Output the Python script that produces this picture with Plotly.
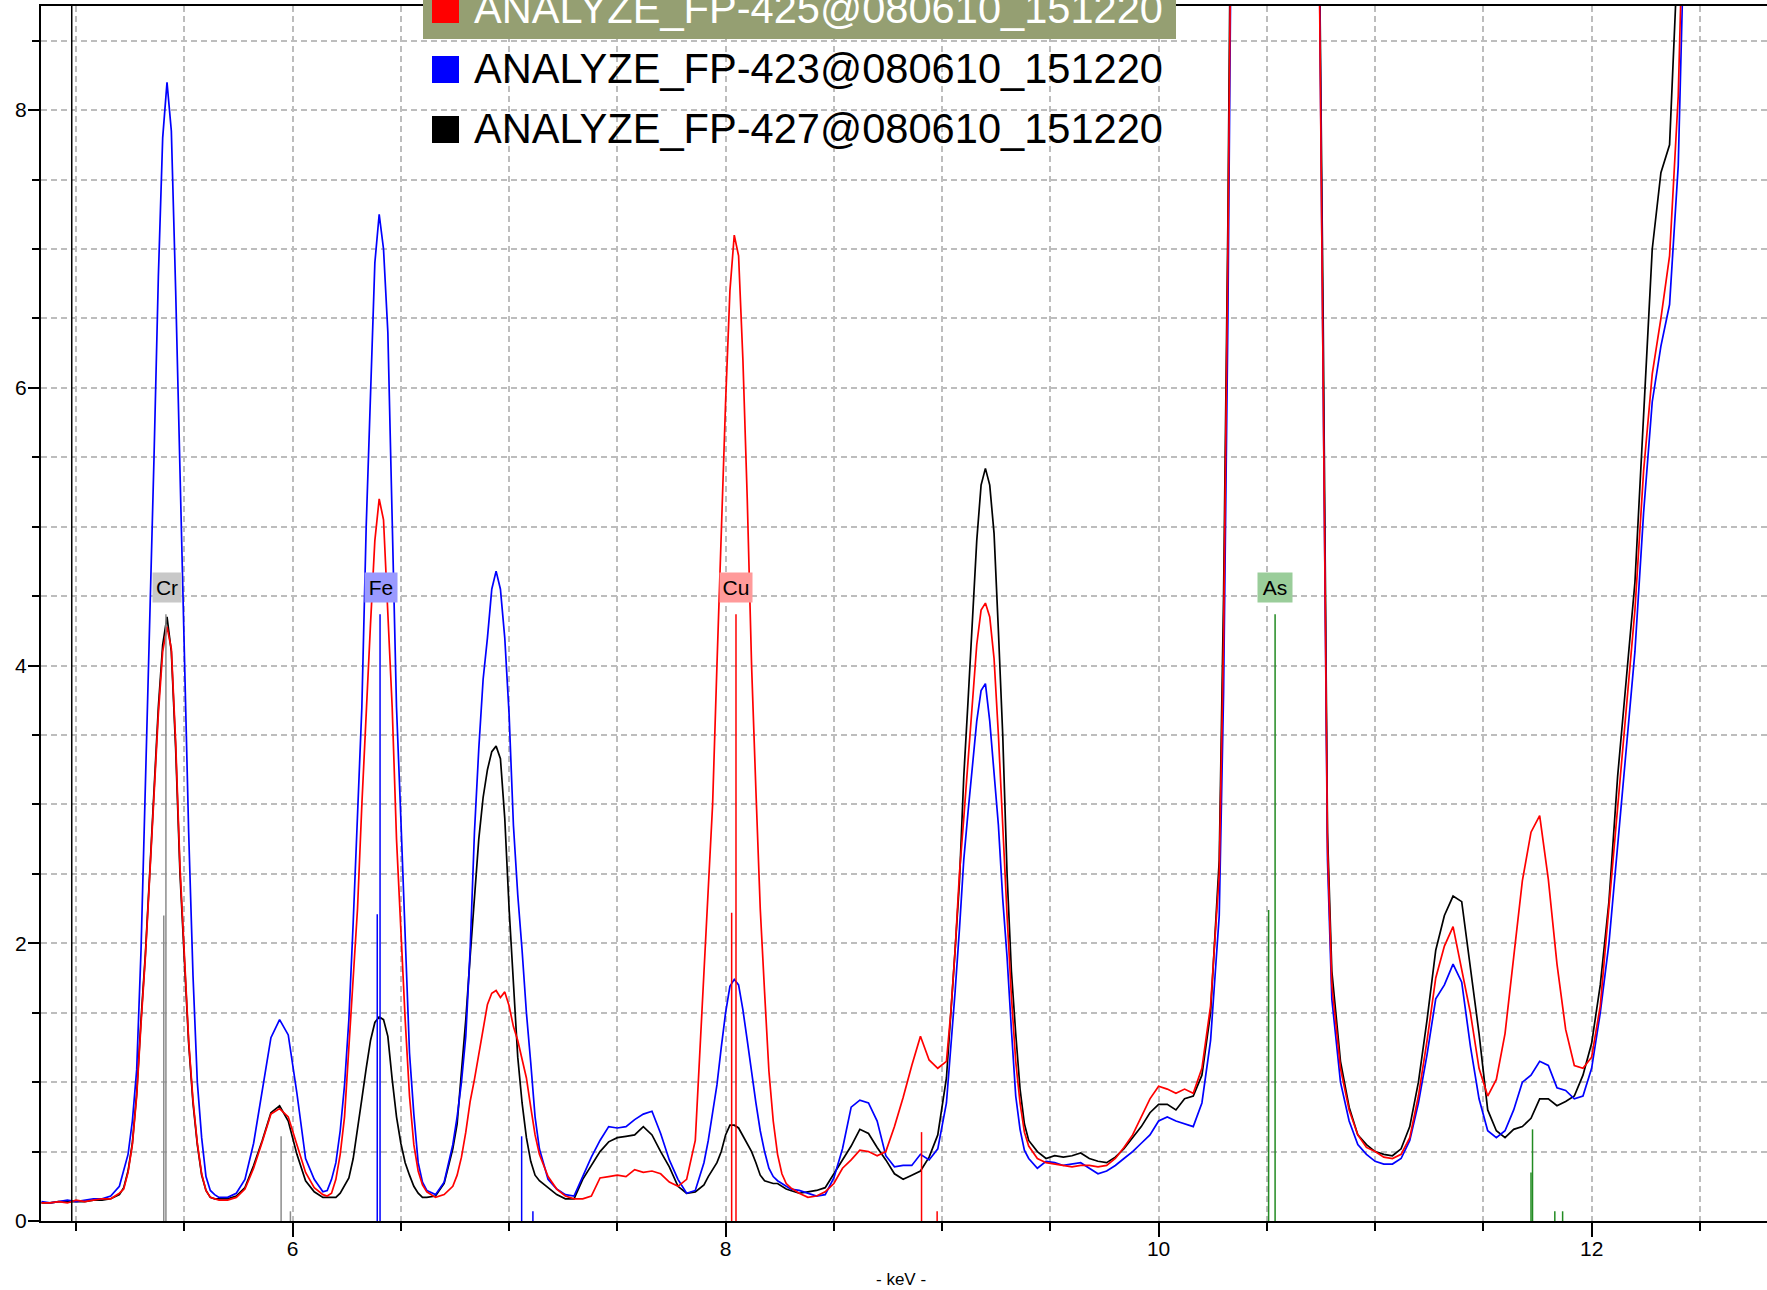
import plotly.graph_objects as go

# ---------------- data ----------------
KEV = [
    4.84, 4.88, 4.92, 4.96, 5.00, 5.04, 5.08, 5.12, 5.16, 5.20,
    5.22, 5.24, 5.26, 5.28, 5.30, 5.32, 5.34, 5.36, 5.38, 5.40, 5.42, 5.44, 5.46, 5.48, 5.50, 5.52, 5.54, 5.56, 5.58, 5.60, 5.62, 5.64, 5.66,
    5.70, 5.74, 5.78, 5.82, 5.86, 5.90, 5.94, 5.98, 6.02, 6.06, 6.10, 6.14,
    6.16, 6.18, 6.20, 6.22, 6.24, 6.26, 6.28, 6.30, 6.32, 6.34, 6.36, 6.38, 6.40, 6.42, 6.44, 6.46, 6.48, 6.50, 6.52, 6.54, 6.56, 6.58, 6.60, 6.62,
    6.66, 6.70, 6.74, 6.76, 6.78, 6.80, 6.82, 6.84, 6.86, 6.88, 6.90, 6.92, 6.94, 6.96, 6.98, 7.00, 7.02, 7.04, 7.06, 7.08, 7.10, 7.12, 7.14, 7.18, 7.22, 7.26, 7.30,
    7.34, 7.38, 7.42, 7.46, 7.50, 7.54, 7.58, 7.62, 7.66, 7.70, 7.74, 7.78, 7.82, 7.86, 7.90,
    7.92, 7.94, 7.96, 7.98, 8.00, 8.02, 8.04, 8.06, 8.08, 8.10, 8.12, 8.14, 8.16, 8.18, 8.20, 8.22, 8.24, 8.26, 8.28, 8.30,
    8.34, 8.38, 8.42, 8.46, 8.50, 8.54, 8.58, 8.62, 8.66, 8.70, 8.74, 8.78, 8.82, 8.86, 8.90, 8.94, 8.98, 9.02,
    9.04, 9.06, 9.08, 9.10, 9.12, 9.14, 9.16, 9.18, 9.20, 9.22, 9.24, 9.26, 9.28, 9.30, 9.32, 9.34, 9.36, 9.38, 9.40,
    9.44, 9.48, 9.52, 9.56, 9.60, 9.64, 9.68, 9.72, 9.76, 9.80, 9.84, 9.88, 9.92, 9.96, 10.00, 10.04, 10.08, 10.12, 10.16, 10.20, 10.24, 10.28,
    10.30, 10.32, 10.34, 10.36, 10.40, 10.45, 10.50, 10.55, 10.60, 10.65, 10.70, 10.72, 10.74, 10.76, 10.78,
    10.80, 10.84, 10.88, 10.92, 10.96, 11.00, 11.04, 11.08, 11.12, 11.16, 11.20, 11.24, 11.28,
    11.32, 11.36, 11.40, 11.44, 11.48, 11.52, 11.56, 11.60, 11.64, 11.68, 11.72, 11.76, 11.80, 11.84, 11.88, 11.92, 11.96, 12.00, 12.04, 12.08, 12.12, 12.16,
    12.20, 12.24, 12.28, 12.32, 12.36, 12.40, 12.44, 12.50, 12.60, 12.70, 12.82,
]

FP425_RED = [
    0.13, 0.13, 0.14, 0.13, 0.15, 0.14, 0.15, 0.16, 0.16, 0.20,
    0.23, 0.35, 0.55, 0.90, 1.42, 1.90, 2.48, 3.05, 3.65, 4.10, 4.28, 4.12, 3.45, 2.55, 1.90, 1.30, 0.87, 0.56, 0.34, 0.22, 0.17, 0.16, 0.15,
    0.15, 0.17, 0.23, 0.38, 0.57, 0.77, 0.81, 0.75, 0.55, 0.35, 0.24, 0.19,
    0.18, 0.20, 0.30, 0.48, 0.75, 1.25, 1.70, 2.25, 3.00, 3.70, 4.30, 4.90, 5.20, 5.05, 4.40, 3.70, 2.75, 2.05, 1.45, 0.90, 0.55, 0.36, 0.26, 0.21,
    0.17, 0.19, 0.25, 0.33, 0.46, 0.64, 0.86, 1.02, 1.20, 1.40, 1.56, 1.64, 1.66, 1.61, 1.65, 1.55, 1.40, 1.30, 1.16, 1.03, 0.82, 0.62, 0.48, 0.32, 0.23, 0.18, 0.16,
    0.16, 0.18, 0.31, 0.32, 0.33, 0.32, 0.37, 0.35, 0.36, 0.34, 0.28, 0.25, 0.30, 0.58, 1.75,
    2.40, 3.00, 4.00, 5.00, 5.90, 6.70, 7.10, 6.95, 6.20, 5.20, 4.00, 3.10, 2.25, 1.65, 1.08, 0.72, 0.48, 0.34, 0.27, 0.24,
    0.20, 0.17, 0.18, 0.21, 0.27, 0.38, 0.44, 0.51, 0.50, 0.47, 0.50, 0.68, 0.89, 1.12, 1.33, 1.16, 1.10, 1.15,
    1.50, 1.95, 2.50, 2.90, 3.30, 3.75, 4.15, 4.40, 4.45, 4.35, 4.05, 3.50, 2.80, 2.20, 1.62, 1.15, 0.85, 0.64, 0.54,
    0.45, 0.42, 0.41, 0.40, 0.39, 0.40, 0.40, 0.39, 0.40, 0.45, 0.53, 0.62, 0.75, 0.88, 0.97, 0.95, 0.92, 0.95, 0.92, 1.10, 1.55, 2.50,
    4.2, 7.0, 10.4, 14.0, 25.0, 38.0, 48.0, 50.0, 45.0, 32.0, 18.0, 13.0, 9.4, 6.3, 2.7,
    1.70, 1.10, 0.80, 0.62, 0.53, 0.50, 0.46, 0.45, 0.48, 0.60, 0.90, 1.30, 1.75,
    1.98, 2.12, 1.80, 1.50, 1.10, 0.90, 1.02, 1.35, 1.90, 2.45, 2.80, 2.92, 2.46, 1.85, 1.38, 1.12, 1.10, 1.18, 1.55, 2.25, 2.95, 3.70,
    4.4, 5.4, 6.1, 6.5, 6.95, 8.1, 10.5, 14.0, 20.0, 18.0, 12.0,
]

FP423_BLUE = [
    0.14, 0.13, 0.14, 0.15, 0.14, 0.15, 0.16, 0.16, 0.18, 0.25,
    0.36, 0.48, 0.72, 1.09, 1.95, 3.10, 4.40, 5.50, 6.80, 7.80, 8.20, 7.85, 6.70, 5.40, 4.00, 2.80, 1.77, 1.00, 0.60, 0.32, 0.22, 0.19, 0.17,
    0.17, 0.20, 0.30, 0.56, 0.95, 1.32, 1.45, 1.34, 0.92, 0.45, 0.30, 0.21,
    0.22, 0.30, 0.42, 0.65, 0.98, 1.45, 2.15, 2.95, 3.70, 5.00, 6.00, 6.90, 7.25, 7.00, 6.40, 5.10, 3.70, 2.90, 2.00, 1.21, 0.77, 0.42, 0.28, 0.22,
    0.19, 0.28, 0.55, 0.75, 1.00, 1.33, 1.95, 2.80, 3.40, 3.90, 4.20, 4.55, 4.68, 4.55, 4.20, 3.65, 2.85, 2.35, 1.95, 1.50, 1.14, 0.75, 0.52, 0.30, 0.23, 0.19, 0.18,
    0.32, 0.46, 0.58, 0.68, 0.67, 0.68, 0.73, 0.77, 0.79, 0.63, 0.44, 0.30, 0.20, 0.22, 0.42,
    0.58, 0.78, 0.98, 1.25, 1.50, 1.69, 1.74, 1.70, 1.52, 1.30, 1.06, 0.85, 0.65, 0.50, 0.38, 0.32, 0.29, 0.27, 0.25, 0.23,
    0.22, 0.20, 0.18, 0.19, 0.31, 0.52, 0.82, 0.87, 0.85, 0.72, 0.47, 0.39, 0.40, 0.40, 0.48, 0.44, 0.52, 0.85,
    1.23, 1.65, 2.10, 2.60, 2.95, 3.30, 3.60, 3.82, 3.87, 3.60, 3.20, 2.85, 2.32, 1.90, 1.38, 0.90, 0.66, 0.51, 0.45,
    0.38, 0.43, 0.42, 0.40, 0.41, 0.42, 0.38, 0.34, 0.36, 0.40, 0.45, 0.50, 0.56, 0.62, 0.72, 0.75, 0.72, 0.70, 0.68, 0.85, 1.30, 2.20,
    3.8, 6.5, 10.0, 14.0, 25.0, 38.0, 48.0, 50.0, 45.0, 32.0, 18.0, 13.0, 9.5, 6.0, 2.6,
    1.60, 1.00, 0.72, 0.55, 0.48, 0.43, 0.41, 0.41, 0.45, 0.58, 0.85, 1.20, 1.60,
    1.70, 1.85, 1.72, 1.26, 0.88, 0.65, 0.60, 0.65, 0.80, 1.00, 1.05, 1.15, 1.12, 0.96, 0.94, 0.88, 0.90, 1.10, 1.50, 2.00, 2.70, 3.35,
    4.1, 5.1, 5.9, 6.3, 6.6, 7.6, 10.0, 14.0, 20.0, 18.0, 12.0,
]

FP427_BLACK = [
    0.13, 0.13, 0.14, 0.14, 0.14, 0.14, 0.15, 0.15, 0.16, 0.19,
    0.24, 0.36, 0.56, 0.92, 1.45, 1.92, 2.50, 3.10, 3.70, 4.15, 4.35, 4.10, 3.40, 2.50, 1.88, 1.28, 0.85, 0.55, 0.33, 0.22, 0.17, 0.16, 0.16,
    0.16, 0.18, 0.24, 0.40, 0.58, 0.78, 0.83, 0.72, 0.48, 0.29, 0.21, 0.17,
    0.17, 0.17, 0.17, 0.20, 0.25, 0.31, 0.45, 0.65, 0.88, 1.10, 1.30, 1.43, 1.47, 1.45, 1.33, 1.02, 0.75, 0.56, 0.42, 0.33, 0.25, 0.20, 0.17, 0.17,
    0.18, 0.27, 0.52, 0.70, 1.05, 1.45, 1.90, 2.35, 2.75, 3.05, 3.25, 3.38, 3.42, 3.33, 2.90, 2.25, 1.70, 1.18, 0.85, 0.60, 0.43, 0.33, 0.29, 0.24, 0.19, 0.16, 0.16,
    0.30, 0.40, 0.50, 0.57, 0.60, 0.61, 0.62, 0.68, 0.62, 0.50, 0.39, 0.25, 0.20, 0.21, 0.26,
    0.32, 0.37, 0.42, 0.50, 0.62, 0.69, 0.69, 0.67, 0.61, 0.55, 0.50, 0.42, 0.33, 0.29, 0.28, 0.27, 0.27, 0.25, 0.23, 0.22,
    0.20, 0.21, 0.22, 0.24, 0.34, 0.45, 0.54, 0.66, 0.63, 0.53, 0.44, 0.34, 0.30, 0.33, 0.36, 0.46, 0.62, 1.03,
    1.47, 1.95, 2.44, 3.20, 3.75, 4.30, 4.90, 5.30, 5.42, 5.30, 4.95, 4.25, 3.50, 2.50, 1.80, 1.35, 0.95, 0.70, 0.58,
    0.50, 0.45, 0.47, 0.46, 0.47, 0.49, 0.45, 0.43, 0.42, 0.46, 0.52, 0.60, 0.68, 0.78, 0.84, 0.84, 0.80, 0.88, 0.90, 1.05, 1.50, 2.60,
    4.5, 7.2, 10.5, 14.0, 25.0, 38.0, 48.0, 50.0, 45.0, 32.0, 18.0, 13.0, 9.6, 6.5, 2.8,
    1.80, 1.15, 0.82, 0.62, 0.55, 0.50, 0.48, 0.47, 0.52, 0.68, 1.00, 1.45, 1.95,
    2.20, 2.34, 2.30, 1.84, 1.35, 0.80, 0.65, 0.60, 0.66, 0.68, 0.74, 0.88, 0.88, 0.83, 0.86, 0.90, 1.05, 1.28, 1.70, 2.30, 3.20, 3.90,
    4.6, 5.8, 7.0, 7.55, 7.75, 9.2, 11.0, 14.0, 20.0, 18.0, 12.0,
]

SERIES_NAMES = ["ANALYZE_FP-425@080610_151220",
                "ANALYZE_FP-423@080610_151220",
                "ANALYZE_FP-427@080610_151220"]

# element marker lines (keV, relative height)
ELEMENTS = ["Cr", "Fe", "Cu", "As"]
ELEMENT_LINE_KEV = {
    "Cr": [5.405, 5.415, 5.947, 5.990],
    "Fe": [6.391, 6.404, 7.058, 7.110],
    "Cu": [8.028, 8.048, 8.905, 8.977],
    "As": [10.508, 10.538, 11.720, 11.727, 11.830, 11.866],
}
ELEMENT_LINE_H = {
    "Cr": [2.20, 4.37, 0.61, 0.07],
    "Fe": [2.21, 4.37, 0.61, 0.07],
    "Cu": [2.22, 4.37, 0.64, 0.07],
    "As": [2.24, 4.37, 0.35, 0.66, 0.07, 0.07],
}
ELEMENT_LABEL_KEV = {"Cr": 5.420, "Fe": 6.407, "Cu": 8.047, "As": 10.536}
CURSOR_KEV = 4.98
LABEL_LEVEL = 4.565

# ---------------- styling ----------------
W, H = 1767, 1290
ML, MR, MT, MB = 41, 0, 6, 69
PW, PH = W - ML - MR, H - MT - MB
XR = [4.838, 12.81]
YR = [0, 8.75]

LINE_COLORS = {"red": "#FF0000", "blue": "#0000FF", "black": "#000000"}
ELEM_LINE_COLOR = {"Cr": "#8C8C8C", "Fe": "#0000FF", "Cu": "#FF0000", "As": "#228B22"}
ELEM_BOX_COLOR = {"Cr": "#C8C8C8", "Fe": "#9A9AFF", "Cu": "#FF9A9A", "As": "#9ACD9A"}
ELEM_BOX_W = {"Cr": 26, "Fe": 30, "Cu": 30, "As": 32}
GRID = "#BDBDBD"
NARROW = "Liberation Sans Narrow, Liberation Sans, Arial, sans-serif"
SANS = "Liberation Sans, Arial, sans-serif"


def paper_x(px):
    return (px - ML) / PW


def paper_y(py):
    return (H - MB - py) / PH


fig = go.Figure()

for vals, col in [(FP427_BLACK, "black"), (FP423_BLUE, "blue"), (FP425_RED, "red")]:
    fig.add_trace(go.Scatter(x=KEV, y=vals, mode="lines",
                             line=dict(color=LINE_COLORS[col], width=1.7),
                             hoverinfo="skip", showlegend=False))

for el in ELEMENTS:
    xs, ys = [], []
    for k, h in zip(ELEMENT_LINE_KEV[el], ELEMENT_LINE_H[el]):
        xs += [k, k, None]
        ys += [0, h, None]
    fig.add_trace(go.Scatter(x=xs, y=ys, mode="lines",
                             line=dict(color=ELEM_LINE_COLOR[el], width=1.5),
                             hoverinfo="skip", showlegend=False))
    fig.add_annotation(x=ELEMENT_LABEL_KEV[el], y=LABEL_LEVEL, xref="x", yref="y",
                       text=el, showarrow=False, bgcolor=ELEM_BOX_COLOR[el],
                       width=ELEM_BOX_W[el], height=27, borderpad=1,
                       font=dict(family=NARROW, size=21, color="#000000"))

# cursor line
fig.add_trace(go.Scatter(x=[CURSOR_KEV, CURSOR_KEV], y=[0, YR[1]], mode="lines",
                         line=dict(color="#000000", width=1.5),
                         hoverinfo="skip", showlegend=False))

# legend (drawn manually)
fig.add_shape(type="rect", xref="paper", yref="paper",
              x0=paper_x(423), x1=paper_x(1176), y0=paper_y(39), y1=paper_y(-2),
              fillcolor="#959F72", line=dict(width=0), layer="above")
legend_colors = ["#FF0000", "#0000FF", "#000000"]
legend_text_colors = ["#FFFFFF", "#000000", "#000000"]
for i, name in enumerate(SERIES_NAMES):
    top = -4 + 60 * i
    fig.add_shape(type="rect", xref="paper", yref="paper",
                  x0=paper_x(432), x1=paper_x(459), y0=paper_y(top + 27), y1=paper_y(top),
                  fillcolor=legend_colors[i], line=dict(width=0), layer="above")
    fig.add_annotation(x=paper_x(472), y=paper_y(top + 12), xref="paper", yref="paper",
                       xanchor="left", yanchor="middle", text=name, showarrow=False,
                       font=dict(family=SANS, size=41.6, color=legend_text_colors[i]))

# axis title
fig.add_annotation(x=paper_x(901), y=paper_y(1279), xref="paper", yref="paper",
                   text="- keV -", showarrow=False, xanchor="center", yanchor="middle",
                   font=dict(family=SANS, size=17, color="#000000"))

fig.update_xaxes(range=XR, tick0=0, dtick=2, ticks="outside", ticklen=14, tickwidth=1.5,
                 tickcolor="#000000", showline=True, linecolor="#000000", linewidth=2,
                 mirror=True, zeroline=False, ticklabelstandoff=-6,
                 showgrid=True, gridcolor=GRID, gridwidth=1.5, griddash="6px,4px",
                 tickfont=dict(family=NARROW, size=21, color="#000000"),
                 minor=dict(dtick=0.5, tick0=0, ticks="outside", ticklen=8, tickwidth=1.5,
                            tickcolor="#000000", showgrid=True, gridcolor=GRID,
                            gridwidth=1.5, griddash="6px,4px"))
fig.update_yaxes(range=YR, tick0=0, dtick=2, ticks="outside", ticklen=11, tickwidth=1.5,
                 tickcolor="#000000", showline=True, linecolor="#000000", linewidth=2,
                 mirror=False, zeroline=False, ticklabelstandoff=-3,
                 showgrid=True, gridcolor=GRID, gridwidth=1.5, griddash="6px,4px",
                 tickfont=dict(family=NARROW, size=21, color="#000000"),
                 minor=dict(dtick=0.5, tick0=0, ticks="outside", ticklen=7, tickwidth=1.5,
                            tickcolor="#000000", showgrid=True, gridcolor=GRID,
                            gridwidth=1.5, griddash="6px,4px"))

fig.update_layout(width=W, height=H, margin=dict(l=ML, r=MR, t=MT, b=MB, pad=0),
                  paper_bgcolor="#FFFFFF", plot_bgcolor="#FFFFFF", showlegend=False)

fig.write_html("out.html",
               config={"displayModeBar": False},
               post_script="document.body.style.margin='0px';"
                           "document.body.style.overflow='hidden';")
